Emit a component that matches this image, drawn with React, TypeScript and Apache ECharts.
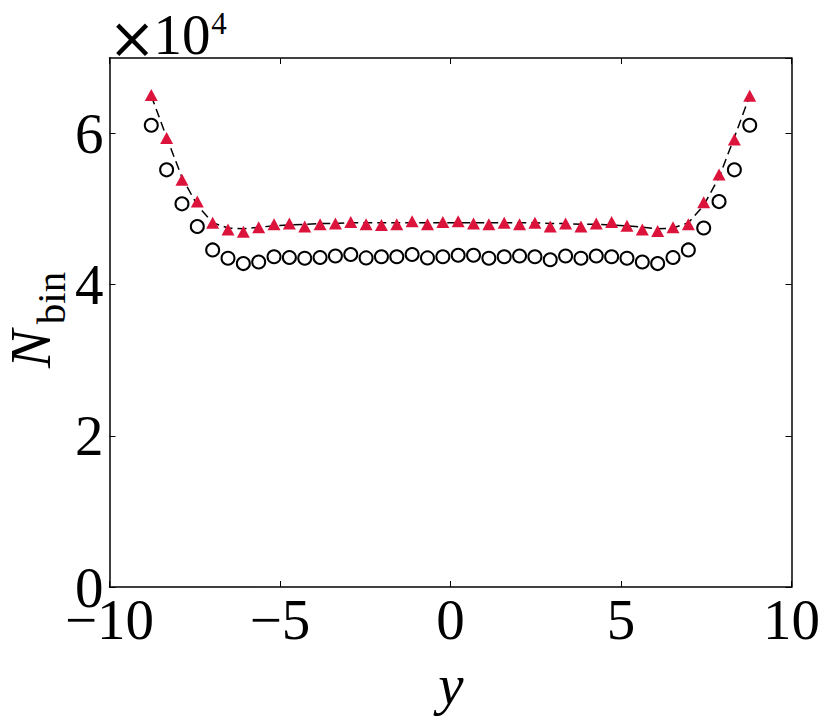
import { useEffect, useRef } from "react";
import * as echarts from "echarts";

// bin centres along y
const binCenters = [
  -8.775, -8.325, -7.875, -7.425, -6.975, -6.525, -6.075, -5.625, -5.175, -4.725,
  -4.275, -3.825, -3.375, -2.925, -2.475, -2.025, -1.575, -1.125, -0.675, -0.225,
  0.225, 0.675, 1.125, 1.575, 2.025, 2.475, 2.925, 3.375, 3.825, 4.275,
  4.725, 5.175, 5.625, 6.075, 6.525, 6.975, 7.425, 7.875, 8.325, 8.775,
];

// N_bin in units of 1e4
const triangleCounts = [
  6.51, 5.94, 5.39, 5.1, 4.82, 4.73, 4.7, 4.76, 4.8, 4.81,
  4.77, 4.8, 4.81, 4.83, 4.8, 4.79, 4.8, 4.84, 4.8, 4.83,
  4.84, 4.81, 4.8, 4.82, 4.8, 4.82, 4.77, 4.81, 4.77, 4.81,
  4.83, 4.78, 4.73, 4.71, 4.76, 4.8, 5.09, 5.46, 5.92, 6.5,
];

const circleCounts = [
  6.11, 5.52, 5.07, 4.77, 4.46, 4.35, 4.28, 4.3, 4.37, 4.36,
  4.35, 4.36, 4.38, 4.4, 4.355, 4.37, 4.37, 4.4, 4.355, 4.37,
  4.39, 4.39, 4.35, 4.37, 4.38, 4.37, 4.33, 4.38, 4.35, 4.38,
  4.37, 4.35, 4.3, 4.28, 4.36, 4.46, 4.75, 5.1, 5.52, 6.11,
];

const fitCounts = [
  6.5, 5.95, 5.42, 5.05, 4.82, 4.75, 4.74, 4.76, 4.78, 4.79,
  4.8, 4.81, 4.81, 4.82, 4.82, 4.82, 4.82, 4.82, 4.82, 4.82,
  4.82, 4.82, 4.82, 4.82, 4.82, 4.82, 4.81, 4.81, 4.8, 4.8,
  4.79, 4.78, 4.76, 4.74, 4.75, 4.82, 5.05, 5.42, 5.95, 6.5,
];

const xTicks = [-10, -5, 0, 5, 10];
const yTicks = [0, 2, 4, 6];

const FONT = "'Liberation Serif', 'DejaVu Serif', serif";
const TICK_SIZE = 57;

const fmt = (v: number) => (v < 0 ? "\u2212" + Math.abs(v) : String(v));

export default function App() {
  const chartRef = useRef<HTMLDivElement | null>(null);

  useEffect(() => {
    if (!chartRef.current) return;
    const chart = echarts.init(chartRef.current, undefined, { renderer: "svg" });

    const pairs = (ys: number[]) => binCenters.map((x, i) => [x, ys[i]]);
    const spine = { show: true, onZero: false, lineStyle: { color: "#000", width: 1.5 } };
    const tick = { show: true, inside: true, length: 6, lineStyle: { color: "#000", width: 1 } };
    const label = (text: string, x: number, y: number, font: string, rotation = 0) => ({
      type: "text" as const,
      x,
      y,
      rotation,
      style: { text, font, fill: "#000", align: "center" as const, verticalAlign: "middle" as const },
    });

    const option: echarts.EChartsOption = {
      animation: false,
      backgroundColor: "#fff",
      grid: { left: 109.5, right: 39.5, top: 58, bottom: 139, containLabel: false },
      xAxis: [
        {
          type: "value",
          min: -10,
          max: 10,
          interval: 5,
          axisLine: spine,
          axisTick: tick,
          splitLine: { show: false },
          axisLabel: {
            margin: 4,
            color: "#000",
            fontFamily: FONT,
            fontSize: TICK_SIZE,
            formatter: (v: number) => (xTicks.includes(v) ? fmt(v) : ""),
          },
        },
        {
          type: "value",
          position: "top",
          min: -10,
          max: 10,
          interval: 5,
          axisLine: spine,
          axisTick: tick,
          axisLabel: { show: false },
          splitLine: { show: false },
        },
      ],
      yAxis: [
        {
          type: "value",
          min: 0,
          max: 7,
          interval: 2,
          axisLine: spine,
          axisTick: tick,
          splitLine: { show: false },
          axisLabel: {
            margin: 6,
            color: "#000",
            fontFamily: FONT,
            fontSize: TICK_SIZE,
            showMaxLabel: false,
            formatter: (v: number) => (yTicks.includes(v) ? fmt(v) : ""),
          },
        },
        {
          type: "value",
          position: "right",
          min: 0,
          max: 7,
          interval: 2,
          axisLine: spine,
          axisTick: tick,
          axisLabel: { show: false },
          splitLine: { show: false },
        },
      ],
      series: [
        {
          name: "fit",
          type: "line",
          data: pairs(fitCounts),
          symbol: "none",
          lineStyle: { color: "#000", width: 1.5, type: [9, 5] },
          z: 1,
        },
        {
          name: "open",
          type: "scatter",
          data: pairs(circleCounts),
          symbol: "circle",
          symbolSize: 13,
          itemStyle: { color: "#fff", borderColor: "#000", borderWidth: 2, opacity: 1 },
          z: 2,
        },
        {
          name: "filled",
          type: "scatter",
          data: pairs(triangleCounts),
          symbol: "triangle",
          symbolSize: [13, 12],
          itemStyle: { color: "#DC143C", opacity: 1 },
          z: 3,
        },
      ],
      graphic: [
        label("\u00d7", 132, 38, `${TICK_SIZE}px 'DejaVu Serif', serif`),
        label("10", 182, 34, `${TICK_SIZE}px ${FONT}`),
        label("4", 219, 23, `31px ${FONT}`),
        label("N", 30, 349, `italic ${TICK_SIZE}px ${FONT}`, Math.PI / 2),
        label("bin", 51, 298, `41px ${FONT}`, Math.PI / 2),
        label("y", 451, 684, `italic ${TICK_SIZE}px ${FONT}`),
      ],
    };

    chart.setOption(option);
    return () => chart.dispose();
  }, []);

  return (
    <div
      ref={chartRef}
      style={{ position: "absolute", left: 0, top: 0, width: "831px", height: "726px" }}
    />
  );
}
